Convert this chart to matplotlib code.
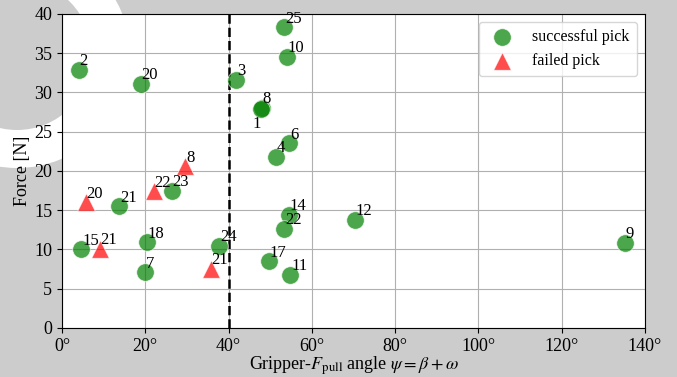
import matplotlib
matplotlib.use('Agg')
import matplotlib.pyplot as plt
from matplotlib.patches import Annulus

plt.rcParams['font.family'] = ['Liberation Serif', 'DejaVu Serif']
plt.rcParams['mathtext.fontset'] = 'stix'
plt.rcParams['font.size'] = 13

# successful picks: angle [deg], force [N], trial id
ok_angle = [4.0, 18.9, 41.9, 48.0, 47.8, 53.3, 54.0, 54.6, 51.4, 26.3, 13.8,
            4.6, 20.3, 19.9, 37.8, 49.6, 54.8, 54.4, 53.4, 70.4, 135.2]
ok_force = [32.9, 31.1, 31.6, 28.0, 27.9, 38.3, 34.5, 23.5, 21.8, 17.5, 15.5,
            10.0, 10.9, 7.1, 10.5, 8.5, 6.8, 14.4, 12.6, 13.8, 10.8]
ok_label = ['2', '20', '3', '8', '1', '25', '10', '6', '4', '23', '21',
            '15', '18', '7', '24', '17', '11', '14', '22', '12', '9']

# failed picks
fail_angle = [5.7, 9.1, 22.0, 29.6, 35.7]
fail_force = [16.0, 10.1, 17.4, 20.6, 7.5]
fail_label = ['20', '21', '22', '8', '21']

fig = plt.figure(figsize=(6.77, 3.77), dpi=100, facecolor='#cccccc')
# white ring of the page behind the figure
ring = Annulus((17, 322), 113, 38, transform=None, facecolor='white',
               edgecolor='none', zorder=-5)
fig.add_artist(ring)

ax = fig.add_axes([0.0916, 0.13, 0.861, 0.833])
ax.grid(True, color='#b0b0b0', linewidth=0.8, zorder=0)
ax.set_axisbelow(True)

ax.scatter(ok_angle, ok_force, s=160, c='green', alpha=0.7, marker='o',
           edgecolors='white', linewidths=0.6, label='successful pick', zorder=3)
ax.scatter(fail_angle, fail_force, s=160, c='red', alpha=0.7, marker='^',
           edgecolors='white', linewidths=0.6, label='failed pick', zorder=3)

for x, y, t in zip(ok_angle, ok_force, ok_label):
    off = (-6, -14) if t == '1' else (0.6, 3.4)
    ax.annotate(t, (x, y), xytext=off, textcoords='offset points', zorder=4,
                fontsize=12)
for x, y, t in zip(fail_angle, fail_force, fail_label):
    ax.annotate(t, (x, y), xytext=(0.6, 3.4), textcoords='offset points', zorder=4,
                fontsize=12)

ax.axvline(40, color='black', linestyle='--', linewidth=1.8, zorder=2)

ax.set_xlim(0, 140)
ax.set_ylim(0, 40)
ax.set_xticks(range(0, 141, 20))
ax.set_xticklabels([f'{v}°' for v in range(0, 141, 20)])
ax.set_yticks(range(0, 41, 5))
ax.set_xlabel(r'Gripper-$F_{\mathrm{pull}}$ angle $\psi = \beta + \omega$', labelpad=0)
ax.set_ylabel('Force [N]', labelpad=2)
ax.legend(loc='upper right', fontsize=11.5, handletextpad=0.9, borderpad=0.45)

fig.savefig('out.png', dpi=100, facecolor=fig.get_facecolor())
